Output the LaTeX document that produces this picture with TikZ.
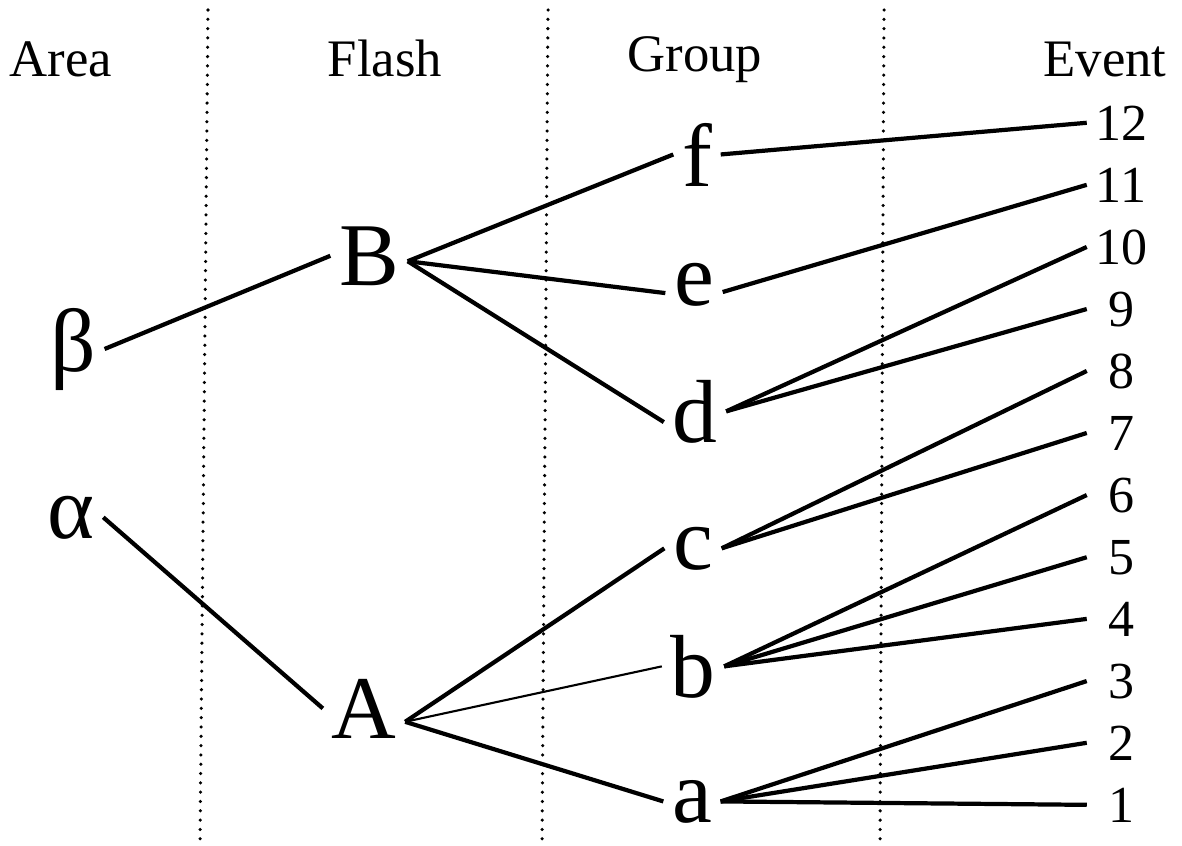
\documentclass[tikz,border=0pt]{standalone}
\usepackage{fontspec}
\setmainfont{Liberation Serif}
\begin{document}
\begin{tikzpicture}[x=0.02cm, y=-0.02cm,
  head/.style={anchor=base, font=\fontsize{30}{36}\selectfont},
  lvl/.style={anchor=base, inner sep=0pt, outer xsep=5pt, outer ysep=0pt,
              font=\fontsize{51}{60}\selectfont},
  num/.style={anchor=base, inner sep=0pt, outer xsep=3pt, outer ysep=0pt,
              minimum width=33pt, font=\fontsize{29.6}{36}\selectfont},
  link/.style={line width=2.4pt},
  thin link/.style={line width=1.2pt},
  divider/.style={line width=2pt, line cap=round, dash pattern=on 0pt off 5.3pt}]

  \useasboundingbox (0,0) rectangle (1182,845);

  % column dividers
  \draw[divider] (208,10) -- (200,845);
  \draw[divider] (548,10) -- (542,845);
  \draw[divider] (884,10) -- (880,845);

  % column headings
  \node[head] (hArea)  at (61,76)   {Area};
  \node[head] (hFlash) at (385,76)  {Flash};
  \node[head] (hGroup) at (695,71)  {Group};
  \node[head] (hEvent) at (1105,76) {Event};

  % areas
  \node[lvl] (beta)  at (73,371) {β};
  \node[lvl] (alpha) at (71,538) {α};

  % flashes
  \node[lvl] (B) at (369,285) {B};
  \node[lvl] (A) at (364,738) {A};

  % groups
  \node[lvl] (f) at (697,186) {f};
  \node[lvl] (e) at (694,305) {e};
  \node[lvl] (d) at (695,442) {d};
  \node[lvl] (c) at (693,569) {c};
  \node[lvl] (b) at (693,697) {b};
  \node[lvl] (a) at (692,822) {a};

  % events
  \foreach \n/\yy in {12/140,11/202,10/264,9/326,8/388,7/450,
                      6/512,5/574,4/636,3/698,2/760,1/822}
    \node[num] (n\n) at (1121,\yy) {\n};

  % area -> flash
  \draw[link] (beta.east)  -- (B.west);
  \draw[link] (alpha.east) -- (A.west);

  % flash -> group
  \draw[link] (B.-8) -- (f.west);
  \draw[link] (B.-8) -- (e.197);
  \draw[link] (B.-8) -- (d.199);
  \draw[link]      (A.-18) -- (c.west);
  \draw[thin link] (A.-18) -- (b.west);
  \draw[link]      (A.-18) -- (a.west);

  % group -> event
  \draw[link] (f.east) -- (n12.west);
  \draw[link] (e.-15) -- (n11.west);
  \draw[link] (d.east) -- (n10.west);
  \draw[link] (d.east) -- (n9.west);
  \draw[link] (c.east) -- (n8.west);
  \draw[link] (c.east) -- (n7.west);
  \draw[link] (b.east) -- (n6.west);
  \draw[link] (b.east) -- (n5.west);
  \draw[link] (b.east) -- (n4.west);
  \draw[link] (a.east) -- (n3.west);
  \draw[link] (a.east) -- (n2.west);
  \draw[link] (a.east) -- (n1.west);
\end{tikzpicture}
\end{document}
